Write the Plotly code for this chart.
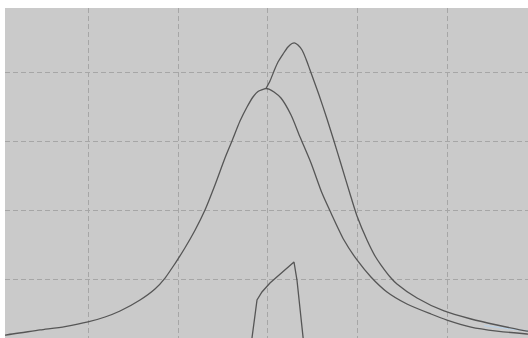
import plotly.graph_objects as go

# Wide resonance curve
x_a = [0.0, 0.78, 4.67, 7.44, 10.0, 11.89, 13.56, 15.78, 17.44, 18.56, 19.67, 20.78,
       21.89, 23.0, 24.11, 25.22, 26.0, 26.89, 27.67, 28.33, 28.89, 29.56, 29.78,
       30.11, 30.67, 31.44, 32.56, 33.56, 34.78, 36.0, 37.0, 38.44, 39.89, 41.44,
       43.22, 45.44, 48.11, 49.89, 52.56, 55.44, 58.78, 60.0]
y_a = [0.185, 0.195, 0.268, 0.318, 0.384, 0.456, 0.543, 0.702, 0.861, 1.020, 1.230,
       1.458, 1.711, 2.004, 2.366, 2.757, 3.003, 3.292, 3.495, 3.640, 3.719, 3.755,
       3.763, 3.753, 3.712, 3.625, 3.379, 3.061, 2.685, 2.250, 1.961, 1.570, 1.281,
       1.035, 0.818, 0.644, 0.499, 0.412, 0.311, 0.253, 0.210, 0.200]

# Tall shifted resonance curve (branches off the wide one at its top)
x_b = [29.78, 30.22, 30.67, 31.11, 31.67, 32.22, 32.67, 33.0, 33.33, 33.78, 34.22,
       34.67, 35.67, 36.56, 37.33, 38.11, 39.22, 39.89, 41.0, 41.89, 42.56, 43.67,
       44.33, 46.56, 49.56, 52.56, 55.44, 58.78, 60.0]
y_b = [3.763, 3.871, 4.016, 4.146, 4.262, 4.363, 4.414, 4.421, 4.392, 4.320, 4.190,
       4.030, 3.669, 3.321, 3.003, 2.670, 2.192, 1.918, 1.570, 1.339, 1.208, 1.020,
       0.933, 0.731, 0.543, 0.427, 0.340, 0.253, 0.240]

# Narrow clipped response
x_c = [28.11, 28.22, 28.78, 29.33, 30.22, 31.67, 32.89, 33.22, 33.56, 33.89, 34.0]
y_c = [-0.036, 0.152, 0.702, 0.818, 0.948, 1.107, 1.252, 0.991, 0.528, 0.166, 0.036]

# Faint trace at the far right tail
x_d = [54.0, 55.5, 57.0, 58.8, 60.0]
y_d = [0.33, 0.305, 0.28, 0.255, 0.245]

line_color = "#565656"

fig = go.Figure()
fig.add_trace(go.Scatter(x=x_d, y=y_d, mode="lines",
                         line=dict(color="#b9d0e4", width=1.2), hoverinfo="skip"))
fig.add_trace(go.Scatter(x=x_a, y=y_a, mode="lines",
                         line=dict(color=line_color, width=1.3, shape="spline", smoothing=0.7)))
fig.add_trace(go.Scatter(x=x_b, y=y_b, mode="lines",
                         line=dict(color=line_color, width=1.3, shape="spline", smoothing=0.7)))
fig.add_trace(go.Scatter(x=x_c, y=y_c, mode="lines",
                         line=dict(color=line_color, width=1.3)))

axis_common = dict(showticklabels=False, ticks="", zeroline=False, showline=False,
                   showgrid=True, gridcolor="#a6a6a6", gridwidth=1, griddash="5px,3px")

fig.update_layout(
    width=528, height=338,
    margin=dict(l=5, r=0, t=8, b=0),
    paper_bgcolor="white",
    plot_bgcolor="#cacaca",
    showlegend=False,
    xaxis=dict(range=[0.778, 58.89], tick0=0, dtick=10, **axis_common),
    yaxis=dict(range=[0.152, 4.928], tick0=0, dtick=1, **axis_common),
)

fig.write_html("out.html")
